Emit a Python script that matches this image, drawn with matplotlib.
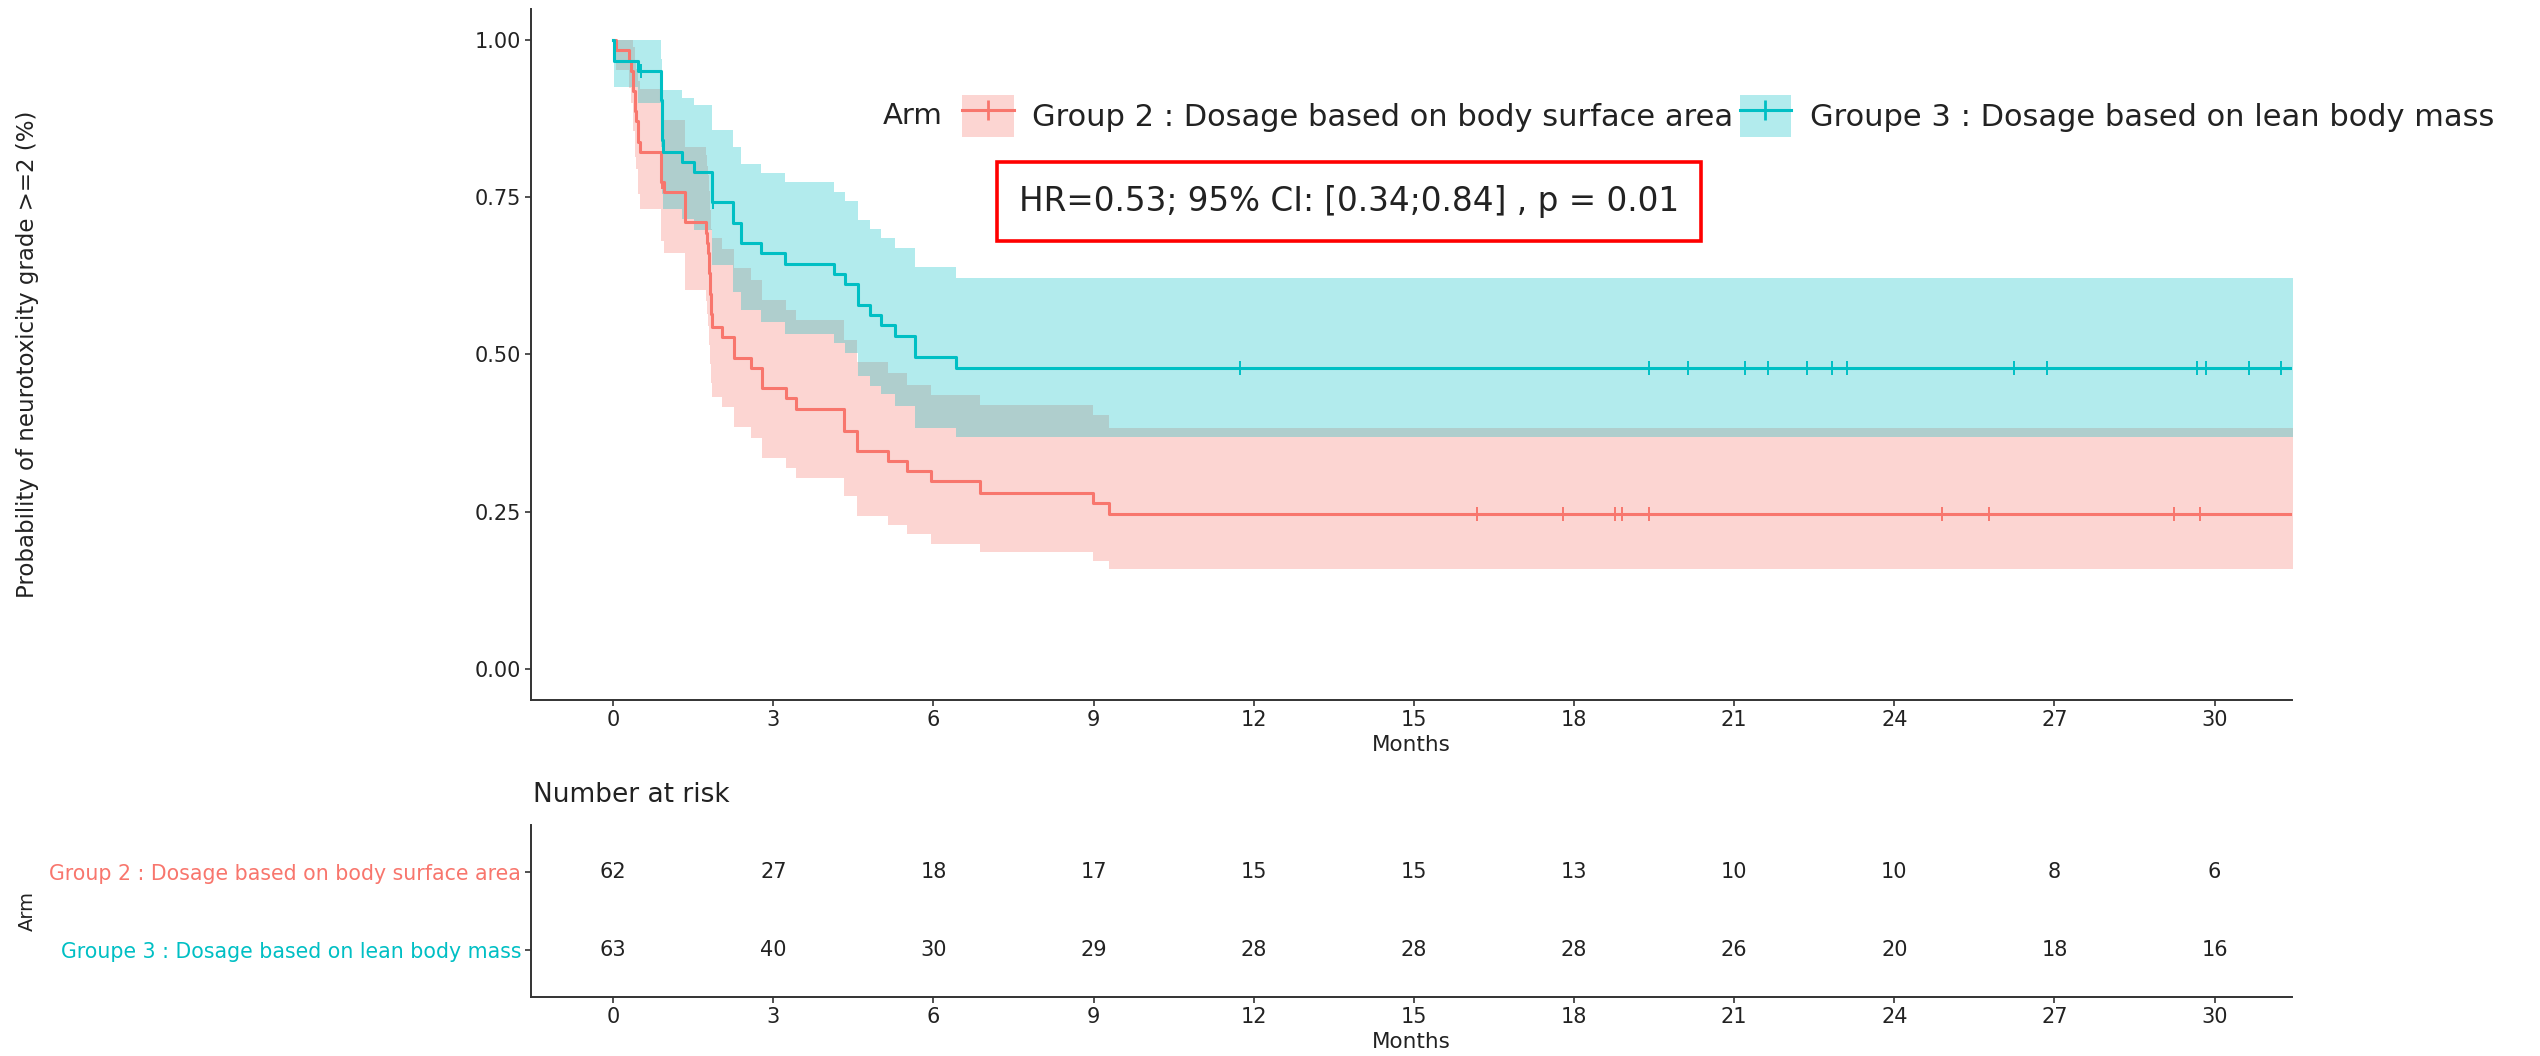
import numpy as np
import matplotlib
matplotlib.use('Agg')
import matplotlib.pyplot as plt
from matplotlib.patches import Patch, Rectangle
from matplotlib.lines import Line2D

RED = '#F8766D'
TEAL = '#00BFC4'
TXT = '#222222'

# Group 2 : KM step curve + 95% band
g2_time = [0.0, 0.05, 0.30, 0.34, 0.37, 0.40, 0.43, 0.46, 0.50, 0.90, 0.95, 1.34,
           1.73, 1.75, 1.77, 1.79, 1.81, 1.83, 1.85, 2.04, 2.27, 2.59, 2.79, 3.24,
           3.43, 4.33, 4.56, 5.14, 5.50, 5.95, 6.87, 8.99, 9.29, 31.6]
g2_surv = [1.000, 0.984, 0.968, 0.952, 0.919, 0.887, 0.871, 0.839, 0.823, 0.774, 0.758, 0.711,
           0.694, 0.677, 0.661, 0.629, 0.597, 0.565, 0.544, 0.528, 0.495, 0.479, 0.446, 0.430,
           0.414, 0.379, 0.346, 0.330, 0.314, 0.298, 0.279, 0.263, 0.246, 0.246]
g2_lower = [1.000, 0.953, 0.925, 0.900, 0.855, 0.815, 0.795, 0.755, 0.732, 0.680, 0.661, 0.602,
            0.585, 0.565, 0.545, 0.515, 0.485, 0.455, 0.432, 0.417, 0.385, 0.367, 0.335, 0.319,
            0.303, 0.274, 0.243, 0.229, 0.215, 0.199, 0.186, 0.171, 0.158, 0.158]
g2_upper = [1.000, 1.000, 1.000, 1.000, 0.990, 0.965, 0.955, 0.935, 0.923, 0.880, 0.873, 0.830,
            0.818, 0.800, 0.785, 0.760, 0.730, 0.700, 0.685, 0.668, 0.637, 0.618, 0.586, 0.571,
            0.555, 0.523, 0.488, 0.470, 0.451, 0.435, 0.419, 0.403, 0.383, 0.383]
g2_censor = [0.92, 16.19, 17.80, 18.76, 18.90, 19.40, 24.90, 25.77, 29.24, 29.72]

# Groupe 3
g3_time = [0.0, 0.02, 0.47, 0.89, 0.90, 0.91, 0.92, 0.93, 1.29, 1.52, 1.85, 2.24, 2.40,
           2.76, 3.21, 4.13, 4.35, 4.58, 4.82, 5.01, 5.27, 5.66, 6.43, 31.6]
g3_surv = [1.000, 0.968, 0.952, 0.937, 0.905, 0.873, 0.841, 0.823, 0.807, 0.791, 0.743, 0.709, 0.677,
           0.661, 0.644, 0.628, 0.612, 0.579, 0.563, 0.547, 0.530, 0.496, 0.478, 0.478]
g3_lower = [1.000, 0.926, 0.900, 0.870, 0.830, 0.790, 0.755, 0.732, 0.715, 0.698, 0.642, 0.600, 0.571,
            0.552, 0.533, 0.518, 0.502, 0.465, 0.450, 0.437, 0.418, 0.383, 0.368, 0.368]
g3_upper = [1.000, 1.000, 1.000, 0.990, 0.970, 0.950, 0.930, 0.921, 0.909, 0.897, 0.857, 0.830, 0.804,
            0.789, 0.775, 0.759, 0.745, 0.714, 0.699, 0.685, 0.669, 0.639, 0.622, 0.622]
g3_censor = [0.53, 1.87, 11.75, 19.40, 20.13, 21.21, 21.64, 22.36, 22.84, 23.11,
             26.24, 26.86, 29.67, 29.84, 30.64, 31.24]

labels = ['Group 2 : Dosage based on body surface area',
          'Groupe 3 : Dosage based on lean body mass']

risk_times = [0, 3, 6, 9, 12, 15, 18, 21, 24, 27, 30]
g2_risk = [62, 27, 18, 17, 15, 15, 13, 10, 10, 8, 6]
g3_risk = [63, 40, 30, 29, 28, 28, 28, 26, 20, 18, 16]

hr_text = 'HR=0.53; 95% CI: [0.34;0.84] , p = 0.01'

W, H = 2540, 1056


def fx(px):
    return px / W


def fy(py):
    return 1 - py / H


def style_axis(ax):
    for s in ('top', 'right'):
        ax.spines[s].set_visible(False)
    for s in ('left', 'bottom'):
        ax.spines[s].set_linewidth(1.4)
        ax.spines[s].set_color('#333333')
    ax.tick_params(length=4, width=1.2, color='#333333', labelsize=15,
                   labelcolor=TXT, pad=3)


def step_value(times, surv, t):
    idx = np.searchsorted(times, t, side='right') - 1
    return np.asarray(surv)[idx]


fig = plt.figure(figsize=(25.4, 10.56), dpi=100)

# --- survival panel
ax = fig.add_axes([fx(531), fy(700), fx(2292) - fx(531), (700 - 9) / H])
curves = [
    (g2_time, g2_surv, g2_lower, g2_upper, g2_censor, RED),
    (g3_time, g3_surv, g3_lower, g3_upper, g3_censor, TEAL),
]
for t, s, lo, hi, cens, c in curves:
    ax.fill_between(t, lo, hi, step='post', color=c, alpha=0.3, lw=0)
    ax.step(t, s, where='post', color=c, lw=2.2)
    ax.plot(cens, step_value(t, s, cens), ls='none', marker='|', ms=9.5, mew=1.4, color=c)

ax.set_xlim(-1.54, 31.45)
ax.set_ylim(-0.05, 1.05)
ax.set_xticks(risk_times)
ax.set_yticks([0, 0.25, 0.5, 0.75, 1.0])
ax.set_yticklabels(['0.00', '0.25', '0.50', '0.75', '1.00'])
style_axis(ax)
ax.set_xlabel('Months', fontsize=15.5, color=TXT, labelpad=4)

fig.text(fx(28), fy(354), 'Probability of neurotoxicity grade >=2 (%)', rotation=90,
         ha='center', va='center', fontsize=16.5, color=TXT)

# legend
handles = [
    (Patch(facecolor=c, alpha=0.3, edgecolor='none'),
     Line2D([], [], color=c, lw=2.2, marker='|', ms=14, mew=2))
    for c in (RED, TEAL)
]
fig.legend(handles, labels, loc='center left', bbox_to_anchor=(fx(962), fy(116)),
           ncol=2, frameon=False, fontsize=22, handlelength=1.7, handleheight=1.75,
           handletextpad=0.6, columnspacing=0.2, borderpad=0, borderaxespad=0,
           labelcolor=TXT)
fig.text(fx(883), fy(116), 'Arm', ha='left', va='center', fontsize=21, color=TXT)

# HR annotation in a red box
fig.patches.append(Rectangle((fx(997), fy(241)), fx(1701) - fx(997), (241 - 162) / H,
                             transform=fig.transFigure, fill=False, ec='#FF0000', lw=2.6))
fig.text(fx(1349), fy(202), hr_text, ha='center', va='center', fontsize=23.5, color=TXT)

# --- number at risk table
rax = fig.add_axes([fx(531), fy(997), fx(2292) - fx(531), (997 - 825) / H])
for t, n in zip(risk_times, g2_risk):
    rax.text(t, 2, str(n), ha='center', va='center', fontsize=15, color=TXT)
for t, n in zip(risk_times, g3_risk):
    rax.text(t, 1, str(n), ha='center', va='center', fontsize=15, color=TXT)
rax.set_xlim(-1.54, 31.45)
rax.set_ylim(0.41, 2.59)
rax.set_xticks(risk_times)
rax.set_yticks([2, 1])
rax.set_yticklabels(labels)
style_axis(rax)
for lab, c in zip(rax.get_yticklabels(), (RED, TEAL)):
    lab.set_color(c)
    lab.set_fontsize(14.8)
rax.set_xlabel('Months', fontsize=15.5, color=TXT, labelpad=4)

fig.text(fx(533), fy(795), 'Number at risk', ha='left', va='center', fontsize=19, color=TXT)
fig.text(fx(27), fy(911), 'Arm', rotation=90, ha='center', va='center', fontsize=14, color=TXT)

fig.savefig('out.png', dpi=100)
